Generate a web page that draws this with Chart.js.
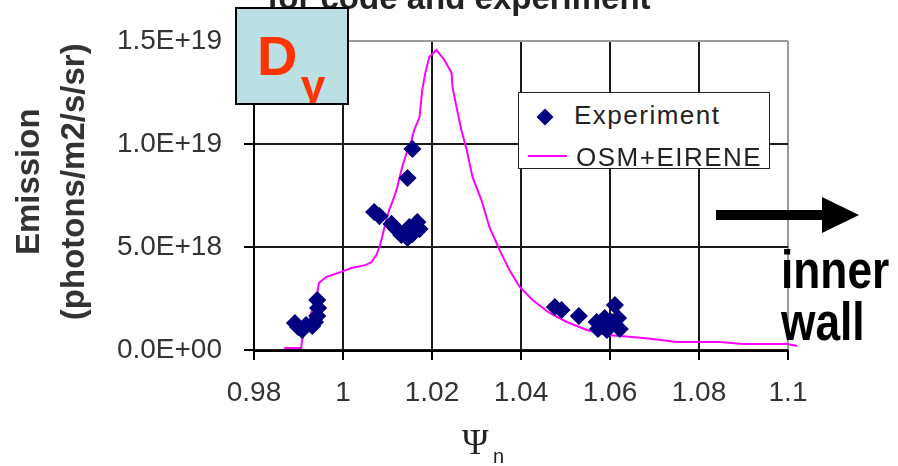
<!DOCTYPE html>
<html>
<head>
<meta charset="utf-8">
<script src="https://cdn.jsdelivr.net/npm/chart.js@4.4.1/dist/chart.umd.min.js"></script>
<style>
  body { margin: 0; background: #fff; overflow: hidden; }
  #chart { position: absolute; left: 0; top: 0; }
  .note { position: absolute; white-space: nowrap; font-family: 'Liberation Sans', Arial, sans-serif; }
  #title { left: 20px; width: 878px; top: -19px; text-align: center; font: bold 33px/33px 'Liberation Sans', Arial, sans-serif; color: #222; }
  #dbox { position: absolute; left: 235px; top: 7px; width: 110px; height: 94px; background: #bbe0e4; border: 2px solid #000; overflow: hidden; }
  #dbox span { position: absolute; color: #ff3300; font-weight: bold; white-space: nowrap; font-family: 'Liberation Sans', Arial, sans-serif; }
  #xtitle { left: 462px; top: 424px; font: 36px/36px 'Liberation Serif', 'Times New Roman', serif; color: #222; }
  #xsub { left: 493px; top: 446px; font: 20px/20px 'Liberation Sans', Arial, sans-serif; color: #222; }
  #wall { left: 781px; top: 243px; font: bold 54px/52px 'Liberation Sans', Arial, sans-serif; color: #000; transform: scaleX(0.82); transform-origin: left top; }
  #legend { position: absolute; left: 518px; top: 92px; width: 252px; height: 77px; box-sizing: border-box; border: 1.5px solid #222; background: #fff; }
  #legend .txt { position: absolute; font: 26px/26px 'Liberation Sans', Arial, sans-serif; letter-spacing: 1.5px; color: #222; white-space: nowrap; }
</style>
</head>
<body>
<canvas id="chart" width="898" height="466"></canvas>
<div class="note" id="title">for code and experiment</div>
<div id="dbox"><span style="left:20px; top:19px; font-size:56px; line-height:56px;">D</span><span style="left:64px; top:55px; font-size:44px; line-height:44px;">γ</span></div>
<div id="legend"></div>
<svg class="note" style="left:710px; top:190px;" width="160" height="50">
  <rect x="6" y="20" width="110" height="10" fill="#000"></rect>
  <polygon points="112,7 149,25 112,43" fill="#000"></polygon>
</svg>
<div class="note" id="wall">inner<br>wall</div>
<div class="note" id="xtitle">Ψ</div>
<div class="note" id="xsub">n</div>
<script>
// tick labels as printed on the axes
const xTickLabels = ['0.98', '1', '1.02', '1.04', '1.06', '1.08', '1.1'];
const yTickLabels = ['0.0E+00', '5.0E+18', '1.0E+19', '1.5E+19'];

// experiment (diamonds)
const expPsi = [0.9942, 0.9944, 0.9942, 0.9937, 0.9931, 0.9917, 0.9899, 0.9892, 0.9908,
  1.0070, 1.0082, 1.0109, 1.0120, 1.0131, 1.0145, 1.0156, 1.0167, 1.0172, 1.0149, 1.0145, 1.0156,
  1.0476, 1.0491, 1.0530, 1.0570, 1.0573, 1.0593, 1.0604, 1.0611, 1.0618, 1.0622, 1.0588];
const expEmission = [2.43e18, 2.04e18, 1.65e18, 1.36e18, 1.17e18, 1.21e18, 1.12e18, 1.31e18, 0.97e18,
  6.70e18, 6.50e18, 6.12e18, 5.87e18, 5.58e18, 5.44e18, 5.63e18, 6.21e18, 5.87e18, 5.97e18, 8.35e18, 9.76e18,
  2.09e18, 1.94e18, 1.65e18, 1.36e18, 1.02e18, 0.97e18, 1.36e18, 2.18e18, 1.55e18, 1.02e18, 1.55e18];

// OSM+EIRENE model curve
const modelPsi = [0.9868, 0.9906, 0.9908, 0.9924, 0.9942, 0.9946, 0.9962, 0.9996, 1.0019, 1.0052,
  1.0064, 1.0075, 1.0082, 1.0088, 1.0097, 1.0104, 1.0115, 1.0122, 1.0133, 1.0145,
  1.0154, 1.0160, 1.0172, 1.0178, 1.0185, 1.0194, 1.0210, 1.0228, 1.0244, 1.0246,
  1.0255, 1.0266, 1.0278, 1.0291, 1.0311, 1.0329, 1.0352, 1.0374, 1.0397, 1.0426,
  1.0464, 1.0503, 1.0548, 1.0593, 1.0651, 1.0696, 1.0751, 1.0796, 1.0847, 1.0899,
  1.0998, 1.1021];
const modelEmission = [0.10e18, 0.10e18, 0.49e18, 1.46e18, 2.77e18, 3.25e18, 3.54e18, 3.79e18, 3.98e18, 4.13e18,
  4.27e18, 4.61e18, 5.00e18, 5.49e18, 6.31e18, 6.80e18, 7.43e18, 7.91e18, 8.88e18, 9.71e18,
  10.19e18, 10.68e18, 11.31e18, 12.62e18, 13.45e18, 14.22e18, 14.56e18, 14.08e18, 13.45e18, 12.77e18,
  11.80e18, 10.68e18, 9.71e18, 8.40e18, 7.28e18, 5.97e18, 4.85e18, 3.88e18, 3.06e18, 2.43e18,
  1.80e18, 1.36e18, 0.97e18, 0.73e18, 0.63e18, 0.53e18, 0.39e18, 0.39e18, 0.39e18, 0.29e18,
  0.29e18, 0.19e18];

const FONT = "'Liberation Sans', Arial, sans-serif";
const gridDark = '#1a1a1a';
const borderGrey = '#9a9a9a';
const xGridColors = [gridDark, gridDark, gridDark, gridDark, gridDark, gridDark, borderGrey];
const yGridColors = [gridDark, gridDark, gridDark, borderGrey];

// paint the grid again just before the datasets, from the scales' own ticks
const gridUnderData = {
  id: 'gridUnderData',
  beforeDatasetsDraw(c) {
    const g = c.ctx;
    const a = c.chartArea;
    const sx = c.scales.x;
    const sy = c.scales.y;
    g.save();
    g.lineWidth = 2;
    sx.ticks.forEach((t, i) => {
      const px = Math.round(sx.getPixelForValue(t.value));
      g.strokeStyle = xGridColors[i];
      g.beginPath(); g.moveTo(px, a.top); g.lineTo(px, a.bottom); g.stroke();
      g.strokeStyle = '#000';
      g.beginPath(); g.moveTo(px, a.bottom); g.lineTo(px, a.bottom + 10); g.stroke();
    });
    sy.ticks.forEach((t, i) => {
      const py = Math.round(sy.getPixelForValue(t.value));
      g.strokeStyle = yGridColors[i];
      g.beginPath(); g.moveTo(a.left, py); g.lineTo(a.right, py); g.stroke();
      g.strokeStyle = '#000';
      g.beginPath(); g.moveTo(a.left - 10, py); g.lineTo(a.left, py); g.stroke();
    });
    g.strokeStyle = '#000';
    g.beginPath(); g.moveTo(a.left, a.top); g.lineTo(a.left, a.bottom + 1); g.lineTo(a.right, a.bottom + 1); g.stroke();
    g.restore();
  }
};

const chart = new Chart(document.getElementById('chart'), {
  type: 'scatter',
  data: {
    datasets: [{
      label: 'Experiment',
      data: expPsi.map((x, i) => ({ x: x, y: expEmission[i] })),
      pointStyle: 'rectRot',
      pointRadius: 8,
      backgroundColor: '#000080',
      borderColor: '#000080',
      borderWidth: 1.5,
      showLine: false
    }, {
      label: 'OSM+EIRENE',
      data: modelPsi.map((x, i) => ({ x: x, y: modelEmission[i] })),
      showLine: true,
      borderColor: '#ff00ff',
      backgroundColor: '#ff00ff',
      borderWidth: 2,
      pointRadius: 0,
      tension: 0,
      clip: 12
    }]
  },
  options: {
    responsive: false,
    animation: false,
    devicePixelRatio: 1,
    events: [],
    layout: { padding: { top: 41, right: 110, left: 0, bottom: 0 } },
    plugins: {
      legend: { display: false },
      tooltip: { enabled: false }
    },
    scales: {
      x: {
        type: 'linear',
        min: 0.98,
        max: 1.1,
        afterFit: s => { s.height = 116; },
        border: { display: true, color: '#000', width: 2 },
        grid: { color: xGridColors, lineWidth: 2, tickColor: '#000', tickLength: 10 },
        ticks: {
          stepSize: 0.02,
          maxRotation: 0,
          padding: 16,
          color: '#333',
          font: { family: FONT, size: 28 },
          callback: (v, i) => xTickLabels[i]
        }
      },
      y: {
        min: 0,
        max: 1.5e19,
        afterFit: s => { s.width = 254; },
        border: { display: true, color: '#000', width: 2 },
        grid: { color: yGridColors, lineWidth: 2, tickColor: '#000', tickLength: 10 },
        ticks: {
          stepSize: 5e18,
          padding: 22,
          color: '#333',
          font: { family: FONT, size: 28 },
          callback: (v, i) => yTickLabels[i]
        },
        title: {
          display: true,
          text: ['   Emission', '   (photons/m2/s/sr)'],
          color: '#333',
          font: { family: FONT, size: 33, weight: 'bold', lineHeight: 1.35 },
          padding: { top: 8, bottom: 0 }
        }
      }
    }
  },
  plugins: [gridUnderData]
});

// legend box over the plot, built from the dataset labels
const legendBox = document.getElementById('legend');
chart.data.datasets.forEach((ds, i) => {
  const top = i === 0 ? 9 : 51;
  const mark = document.createElement('div');
  mark.style.position = 'absolute';
  if (i === 0) {
    mark.style.left = '20px';
    mark.style.top = (top + 9) + 'px';
    mark.style.width = '12px';
    mark.style.height = '12px';
    mark.style.background = ds.backgroundColor;
    mark.style.transform = 'rotate(45deg)';
  } else {
    mark.style.left = '9px';
    mark.style.top = (top + 11) + 'px';
    mark.style.width = '39px';
    mark.style.height = '2px';
    mark.style.background = ds.borderColor;
  }
  legendBox.appendChild(mark);
  const txt = document.createElement('div');
  txt.className = 'txt';
  txt.style.left = (i === 0 ? 55 : 57) + 'px';
  txt.style.top = top + 'px';
  txt.textContent = ds.label;
  legendBox.appendChild(txt);
});
</script>
</body>
</html>
